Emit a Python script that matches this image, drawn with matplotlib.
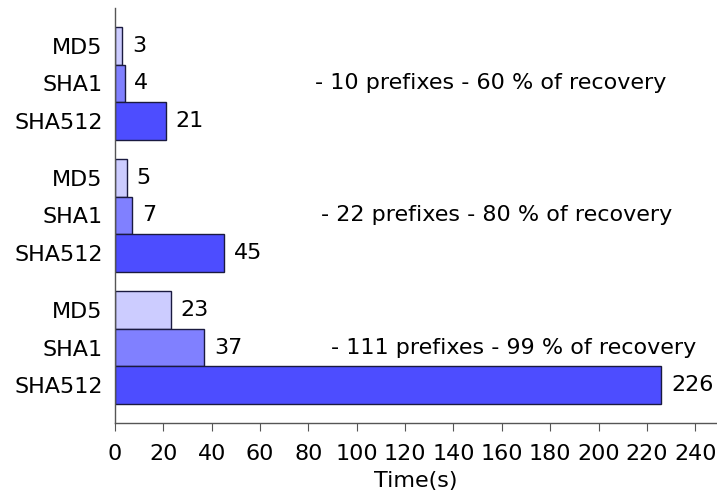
import numpy as np
import matplotlib
matplotlib.use('Agg')
from matplotlib import pyplot as plt

algos = ['MD5', 'SHA1', 'SHA512']
md5 = [3, 5, 23]
sha1 = [4, 7, 37]
sha512 = [21, 45, 226]
notes = ['- 10 prefixes - 60 % of recovery',
         '- 22 prefixes - 80 % of recovery',
         '- 111 prefixes - 99 % of recovery']
note_x = [155.4, 157.7, 165.0]
colors = ['#ccccff', '#8080ff', '#4d4dff']

plt.rcParams['font.family'] = ['DejaVu Sans']
plt.rcParams['font.size'] = 16

fig = plt.figure(figsize=(7.17, 4.99), dpi=100)
ax = fig.add_axes([115 / 717, 76 / 499, 602 / 717, 415 / 499])

step = 3.5
series = [md5, sha1, sha512]
ticks = []
ticklabels = []
for i, vals in enumerate(series):
    pos = np.arange(len(vals)) * step + i
    ax.barh(pos, vals, height=1.0, color=colors[i], edgecolor='#1a1a40',
            linewidth=1.0)
    for p, v in zip(pos, vals):
        ax.annotate(str(v), (v, p), xytext=(7, 0), textcoords='offset points',
                    va='center', ha='left', fontsize=16)
    ticks += list(pos)
    ticklabels += [algos[i]] * len(vals)

for g, txt in enumerate(notes):
    ax.text(note_x[g], g * step + 1, txt, ha='center', va='center', fontsize=16)

ax.set_yticks(ticks)
ax.set_yticklabels(ticklabels)
ax.set_ylim(10, -1)
ax.set_xlim(0, 249)
ax.set_xticks(np.arange(0, 241, 20))
ax.set_xlabel('Time(s)', labelpad=5)

for s in ['top', 'right']:
    ax.spines[s].set_visible(False)
for s in ['left', 'bottom']:
    ax.spines[s].set_color('#555555')
    ax.spines[s].set_linewidth(1.0)
ax.tick_params(axis='y', length=0, pad=9)
ax.tick_params(axis='x', direction='out', length=6, color='#555555', pad=9)

plt.savefig('out.png', dpi=100)
